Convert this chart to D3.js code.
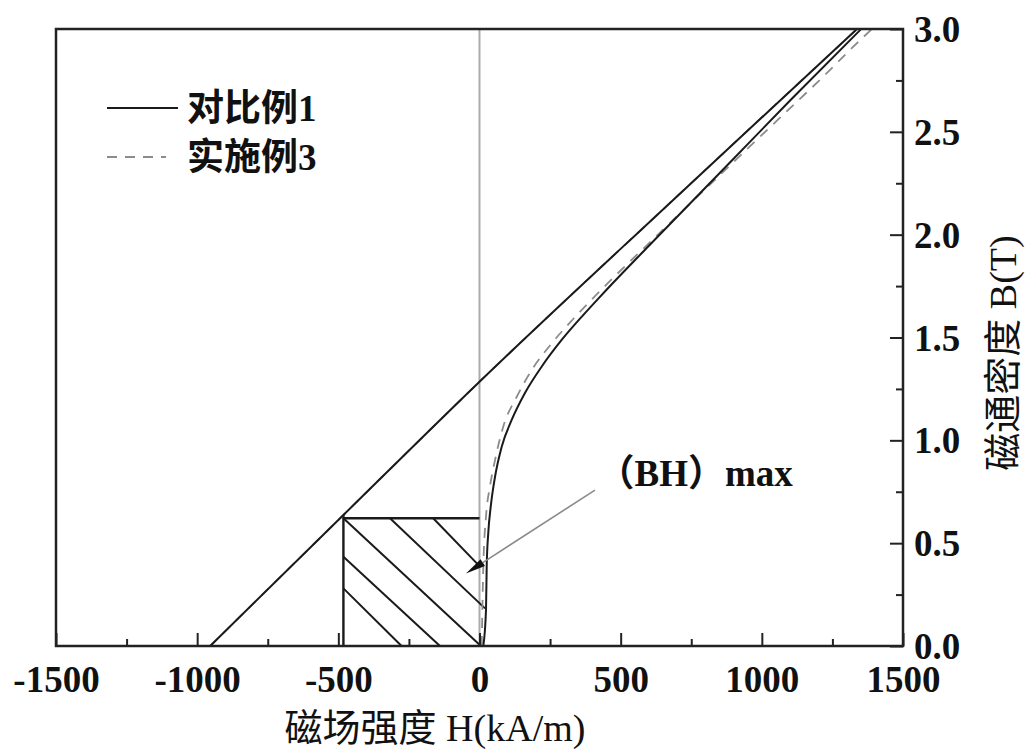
<!DOCTYPE html>
<html>
<head>
<meta charset="utf-8">
<script src="https://cdn.jsdelivr.net/npm/d3@7"></script>
<style>
  html, body { margin: 0; padding: 0; background: #fff; }
  svg { display: block; }
</style>
</head>
<body>
<svg id="chart" width="1025" height="749"></svg>
<script>
// ---------------- data ----------------
const seriesNames = ["对比例1", "实施例3"];
// straight (upper) branch, identical for both samples: [H (kA/m), B (T)]
const ref1Upper = [[-954, 0], [-482, 0.637], [0, 1.285], [686, 2.169], [1337, 3.0]];
const ex3Upper  = [[-954, 0], [-482, 0.637], [0, 1.285], [686, 2.169], [1337, 3.0]];
// lower (initial magnetisation) branch
const ref1Lower = [[13.5, 0], [23, 0.175], [25.5, 0.386], [31, 0.549], [39.7, 0.677], [55, 0.823],
  [78.6, 0.969], [114, 1.099], [161, 1.230], [220, 1.358], [291, 1.488], [368, 1.610],
  [420, 1.688], [450, 1.732], [600, 1.946], [887, 2.351], [1100, 2.652], [1352, 3.0]];
const ex3Lower = [[7.8, 0], [13.5, 0.386], [23, 0.629], [37, 0.775], [55, 0.904], [84, 1.066],
  [132, 1.212], [185, 1.342], [256, 1.472], [332, 1.590], [385, 1.667], [450, 1.758],
  [650, 2.024], [933, 2.397], [1080, 2.589], [1230, 2.785], [1324, 2.914], [1390, 3.0]];
// (BH)max rectangle and hatch lines
const bhRect = { hLeft: -482, hRight: 0, bTop: 0.621, bCorner: 0.637 };
const hatchLines = [
  [[-482, 0.621], [5, 0]],
  [[-317, 0.621], [19.5, 0.183]],
  [[-164, 0.621], [1.8, 0.386]],
  [[-482, 0.434], [-140, 0]],
  [[-482, 0.280], [-276, 0]]
];
const arrowFrom = [409, 0.758];
const arrowTo = [-48, 0.353];
const annotation = "（BH）max";
const annotationPos = [418, 0.778];
const xMajorTicks = [-1500, -1000, -500, 0, 500, 1000, 1500];
const xMinorTicks = [-1250, -750, -250, 250, 750, 1250];
const yMajorTicks = [0, 0.5, 1.0, 1.5, 2.0, 2.5, 3.0];
const yMinorTicks = [0.25, 0.75, 1.25, 1.75, 2.25, 2.75];
const xTitle = "磁场强度 H(kA/m)";
const yTitle = "磁通密度 B(T)";

// ---------------- layout ----------------
const L = 56, R = 903, T = 29, B = 646;
const svg = d3.select("#chart");
const x = d3.scaleLinear().domain([-1500, 1500]).range([L, R]);
const y = d3.scaleLinear().domain([0, 3.0]).range([B, T]);
const serif = "'Liberation Serif', 'Times New Roman', 'Noto Sans CJK SC', serif";

svg.append("rect").attr("width", 1025).attr("height", 749).attr("fill", "#fff");

// zero line
svg.append("line")
  .attr("x1", x(0)).attr("x2", x(0)).attr("y1", T).attr("y2", B)
  .attr("stroke", "#ababab").attr("stroke-width", 2);

const line = d3.line().x(d => x(d[0])).y(d => y(d[1])).curve(d3.curveMonotoneX);

// hatch rectangle
const g = svg.append("g").attr("stroke", "#1a1a1a").attr("stroke-width", 2.4).attr("fill", "none");
g.append("line").attr("x1", x(bhRect.hLeft)).attr("x2", x(bhRect.hLeft))
  .attr("y1", y(0)).attr("y2", y(bhRect.bCorner));
g.append("line").attr("x1", x(bhRect.hLeft)).attr("x2", x(bhRect.hRight))
  .attr("y1", y(bhRect.bTop)).attr("y2", y(bhRect.bTop));
g.selectAll("line.hatch").data(hatchLines).enter().append("line").attr("class", "hatch")
  .attr("x1", d => x(d[0][0])).attr("y1", d => y(d[0][1]))
  .attr("x2", d => x(d[1][0])).attr("y2", d => y(d[1][1]))
  .attr("stroke-width", 2);

// curves: dashed first, solid on top
const dashStyle = { stroke: "#8c8c8c", width: 1.8, dash: "10,8" };
[ex3Upper, ex3Lower].forEach(d => {
  svg.append("path").datum(d).attr("d", line).attr("fill", "none")
    .attr("stroke", dashStyle.stroke).attr("stroke-width", dashStyle.width)
    .attr("stroke-dasharray", dashStyle.dash);
});
[ref1Upper, ref1Lower].forEach(d => {
  svg.append("path").datum(d).attr("d", line).attr("fill", "none")
    .attr("stroke", "#1a1a1a").attr("stroke-width", 2);
});

// arrow
{
  const x1 = x(arrowFrom[0]), y1 = y(arrowFrom[1]);
  const x2 = x(arrowTo[0]), y2 = y(arrowTo[1]);
  const ang = Math.atan2(y2 - y1, x2 - x1);
  const len = 20, wid = 4;
  const bx = x2 - len * Math.cos(ang), by = y2 - len * Math.sin(ang);
  svg.append("line").attr("x1", x1).attr("y1", y1).attr("x2", bx).attr("y2", by)
    .attr("stroke", "#8a8a8a").attr("stroke-width", 1.6);
  const px = -Math.sin(ang) * wid, py = Math.cos(ang) * wid;
  svg.append("path")
    .attr("d", `M${x2},${y2}L${bx + px},${by + py}L${bx - px},${by - py}Z`)
    .attr("fill", "#111");
}
svg.append("text").attr("x", x(annotationPos[0])).attr("y", y(annotationPos[1]))
  .attr("font-family", serif).attr("font-weight", "bold").attr("font-size", 37)
  .attr("fill", "#111").text(annotation);

// axes
const xAxisMajor = d3.axisBottom(x).tickValues(xMajorTicks).tickSize(-13).tickFormat(d => String(d));
const xAxisMinor = d3.axisBottom(x).tickValues(xMinorTicks).tickSize(-7).tickFormat("");
const yAxisMajor = d3.axisRight(y).tickValues(yMajorTicks).tickSize(-13).tickPadding(11).tickFormat(d3.format(".1f"));
const yAxisMinor = d3.axisRight(y).tickValues(yMinorTicks).tickSize(-7).tickFormat("");

function styleAxis(sel) {
  sel.select(".domain").remove();
  sel.selectAll(".tick line").attr("stroke", "#222").attr("stroke-width", 2);
  sel.selectAll(".tick text").attr("font-family", serif).attr("font-weight", "bold")
    .attr("font-size", 37).attr("fill", "#111");
}
const gxM = svg.append("g").attr("transform", `translate(0,${B})`).call(xAxisMajor).call(styleAxis);
gxM.selectAll(".tick text").attr("y", 20).attr("dy", "0.71em");
svg.append("g").attr("transform", `translate(0,${B})`).call(xAxisMinor).call(styleAxis);
const gyM = svg.append("g").attr("transform", `translate(${R},0)`).call(yAxisMajor).call(styleAxis);
gyM.selectAll(".tick text").attr("dy", "0.34em");
svg.append("g").attr("transform", `translate(${R},0)`).call(yAxisMinor).call(styleAxis);

// frame
svg.append("rect").attr("x", L).attr("y", T).attr("width", R - L).attr("height", B - T)
  .attr("fill", "none").attr("stroke", "#222").attr("stroke-width", 2.5);

// titles
svg.append("text").attr("x", 435).attr("y", 741).attr("text-anchor", "middle")
  .attr("font-family", serif).attr("font-size", 38).attr("fill", "#111").text(xTitle);
svg.append("text").attr("transform", `translate(1016,353) rotate(-90)`).attr("text-anchor", "middle")
  .attr("font-family", serif).attr("font-size", 38).attr("fill", "#111").text(yTitle);

// legend
const legend = svg.append("g");
const legendItems = [
  { name: seriesNames[0], y: 108, stroke: "#1a1a1a", dash: null, x2: 178 },
  { name: seriesNames[1], y: 157, stroke: dashStyle.stroke, dash: dashStyle.dash, x2: 166 }
];
legendItems.forEach(it => {
  legend.append("line").attr("x1", 107).attr("x2", it.x2).attr("y1", it.y).attr("y2", it.y)
    .attr("stroke", it.stroke).attr("stroke-width", it.dash ? 1.8 : 2.2)
    .attr("stroke-dasharray", it.dash);
  legend.append("text").attr("x", 187).attr("y", it.y + 13)
    .attr("font-family", serif).attr("font-weight", "bold").attr("font-size", 37)
    .attr("fill", "#111").text(it.name);
});
</script>
</body>
</html>
